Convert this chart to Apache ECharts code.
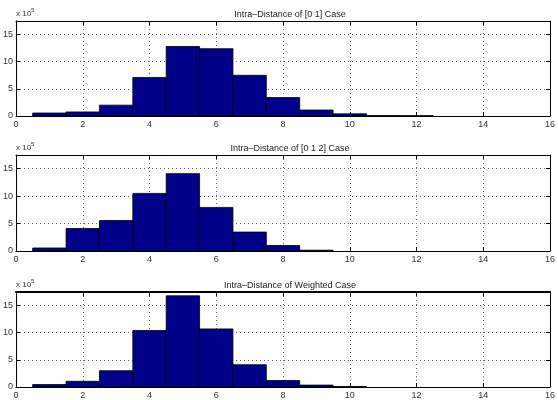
<!DOCTYPE html>
<html>
<head>
<meta charset="utf-8">
<style>
html,body{margin:0;padding:0;background:#fff;}
#chart{width:558px;height:400px;}
</style>
<script src="https://cdn.jsdelivr.net/npm/echarts@6/dist/echarts.min.js"></script>
</head>
<body>
<div id="chart"></div>
<script>
// Bin centers (histogram bins of width 1)
var binCenters = [1, 2, 3, 4, 5, 6, 7, 8, 9, 10, 11, 12];
var binWidth = 1;
// Counts in units of 10^5
var case01 = [0.55, 0.75, 2.0, 7.1, 12.8, 12.4, 7.5, 3.4, 1.1, 0.4, 0.08, 0.06];
var case012 = [0.55, 4.1, 5.55, 10.5, 14.1, 7.95, 3.45, 1.0, 0.15, 0, 0, 0];
var weighted = [0.45, 1.05, 3.0, 10.4, 16.8, 10.7, 4.1, 1.2, 0.35, 0.1, 0, 0];
var titles = ['Intra\u2013Distance of [0 1] Case', 'Intra\u2013Distance of [0 1 2] Case', 'Intra\u2013Distance of Weighted Case'];
var xTicks = [0, 2, 4, 6, 8, 10, 12, 14, 16];
var yTicks = [0, 5, 10, 15];

var seriesData = [case01, case012, weighted];
var gridTops = [21, 155, 292];
var gridHeights = [95, 96, 95];

var chart = echarts.init(document.getElementById('chart'), null, {renderer: 'canvas'});
var FONT = 'Liberation Sans, Arial, sans-serif';
var grids = [], xAxes = [], yAxes = [], series = [], titleArr = [], graphics = [];

for (var i = 0; i < 3; i++) {
  grids.push({left: 16, width: 538, top: gridTops[i], height: gridHeights[i], containLabel: false});
  titleArr.push({
    text: titles[i], left: 285, top: gridTops[i] - 16, textAlign: 'center',
    textStyle: {fontFamily: FONT, fontSize: 9, fontWeight: 'normal', color: '#222'}
  });
  graphics.push({type: 'text', left: 16, top: gridTops[i] - 11,
    style: {text: 'x 10', fontFamily: FONT, fontSize: 8, fill: '#333'}});
  graphics.push({type: 'text', left: 31, top: gridTops[i] - 14,
    style: {text: '5', fontFamily: FONT, fontSize: 6, fill: '#333'}});
  xAxes.push({
    type: 'value', gridIndex: i, position: 'bottom', min: 0, max: 16, interval: 2,
    axisLine: {show: true, onZero: false, lineStyle: {color: '#000', width: 1}},
    axisTick: {show: true, inside: true, length: 4, lineStyle: {color: '#000'}},
    axisLabel: {fontFamily: FONT, fontSize: 9, color: '#333', margin: 4,
      formatter: function (v) { return xTicks.indexOf(v) >= 0 ? String(v) : ''; }},
    splitLine: {show: true, lineStyle: {color: '#666', type: [1, 3], width: 1}}
  });
  xAxes.push({
    type: 'value', gridIndex: i, position: 'top', min: 0, max: 16, interval: 2,
    axisLine: {show: true, onZero: false, lineStyle: {color: '#000', width: i === 2 ? 2 : 1}},
    axisTick: {show: true, inside: true, length: 4, lineStyle: {color: '#000'}},
    axisLabel: {show: false}, splitLine: {show: false}
  });
  yAxes.push({
    type: 'value', gridIndex: i, position: 'left', min: 0, max: 17.5, interval: 5,
    axisLine: {show: true, onZero: false, lineStyle: {color: '#000', width: 1}},
    axisTick: {show: true, inside: true, length: 4, lineStyle: {color: '#000'}},
    axisLabel: {fontFamily: FONT, fontSize: 9, color: '#333', margin: 3, showMaxLabel: false,
      formatter: function (v) { return yTicks.indexOf(v) >= 0 ? String(v) : ''; }},
    splitLine: {show: true, lineStyle: {color: '#666', type: [1, 3], width: 1}}
  });
  yAxes.push({
    type: 'value', gridIndex: i, position: 'right', min: 0, max: 17.5, interval: 5,
    axisLine: {show: true, onZero: false, lineStyle: {color: '#000', width: 1}},
    axisTick: {show: true, inside: true, length: 4, lineStyle: {color: '#000'}},
    axisLabel: {show: false}, splitLine: {show: false}
  });
  var d = binCenters.map(function (c, k) { return [c, seriesData[i][k]]; });
  series.push({
    type: 'custom', xAxisIndex: 2 * i, yAxisIndex: 2 * i, data: d, clip: true,
    renderItem: function (params, api) {
      var x = api.value(0), y = api.value(1);
      if (!(y > 0)) { return null; }
      var p0 = api.coord([x - binWidth / 2, y]);
      var p1 = api.coord([x + binWidth / 2, 0]);
      return {type: 'rect',
        shape: {x: p0[0], y: p0[1], width: p1[0] - p0[0], height: p1[1] - p0[1]},
        style: {fill: '#000088', stroke: '#000', lineWidth: 0.8}};
    },
    encode: {x: 0, y: 1}, z: 3
  });
}

chart.setOption({
  backgroundColor: '#fff',
  animation: false,
  title: titleArr,
  grid: grids,
  xAxis: xAxes,
  yAxis: yAxes,
  series: series,
  graphic: graphics
});
</script>
</body>
</html>
